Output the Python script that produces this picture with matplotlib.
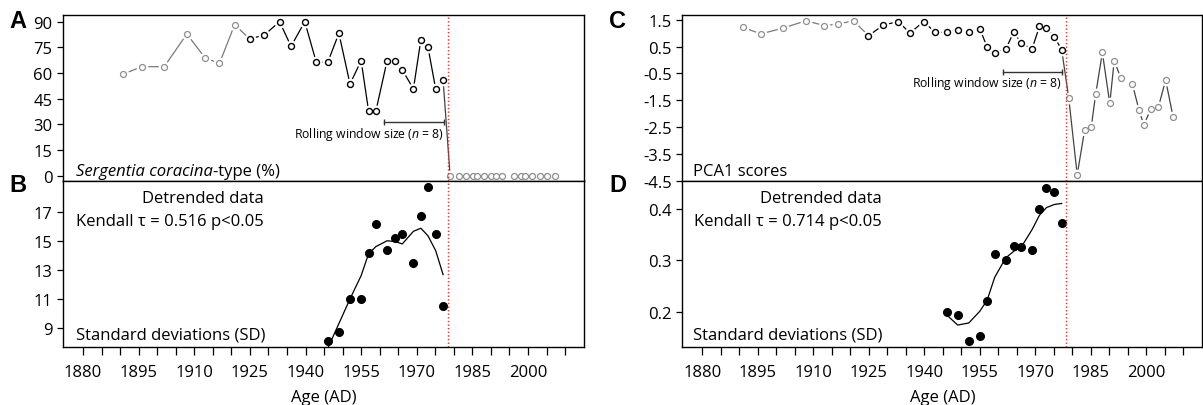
import matplotlib
matplotlib.use('Agg')
import matplotlib.pyplot as plt
import numpy as np

plt.rcParams['font.family'] = ['Open Sans', 'DejaVu Sans']
plt.rcParams['mathtext.fontset'] = 'custom'
plt.rcParams['mathtext.rm'] = 'Open Sans'
plt.rcParams['mathtext.it'] = 'Open Sans:italic'

# sample ages (AD), shared by panels A and C
years = [1890.9, 1895.8, 1901.9, 1908.0, 1913.0, 1916.8, 1920.9, 1924.9, 1928.9, 1933.0,
         1936.1, 1939.8, 1942.9, 1946.0, 1949.0, 1952.0, 1955.0, 1957.0, 1959.0, 1962.0,
         1964.2, 1966.1, 1969.1, 1971.1, 1973.0, 1975.1, 1977.1,
         1979.0, 1981.3, 1983.3, 1985.1, 1986.3, 1988.1, 1990.1, 1991.3, 1993.1,
         1996.2, 1998.0, 1999.3, 2001.2, 2003.2, 2005.2, 2007.2]
sergentia = [59.4, 63.7, 63.7, 82.8, 68.6, 65.7, 88.3, 79.9, 82.2, 90.0,
             75.6, 90.0, 66.3, 66.3, 83.2, 53.6, 67.2, 38.0, 38.0, 67.2,
             67.2, 61.8, 50.7, 79.3, 75.4, 50.7, 55.9,
             0, 0, 0, 0, 0, 0, 0, 0, 0,
             0, 0, 0, 0, 0, 0, 0]
pca1 = [1.22, 0.97, 1.19, 1.46, 1.28, 1.34, 1.46, 0.90, 1.30, 1.43,
        1.00, 1.43, 1.03, 1.03, 1.12, 1.03, 1.15, 0.47, 0.26, 0.41,
        1.05, 0.63, 0.41, 1.25, 1.19, 0.87, 0.38,
        -1.40, -4.28, -2.62, -2.49, -1.27, 0.28, -1.62, -0.03, -0.68,
        -0.90, -1.86, -2.42, -1.83, -1.77, -0.75, -2.12]
first_black = 7      # first sample drawn in black
first_after = 27     # first sample after the shift
gap_after = 35       # no line between this sample and the next

# rolling standard deviations (window n = 8)
sd_years = [1946.0, 1949.0, 1952.0, 1955.0, 1957.0, 1959.0, 1962.0,
            1964.2, 1966.1, 1969.1, 1971.1, 1973.0, 1975.1, 1977.1]
sd_sergentia = [8.09, 8.70, 10.99, 10.99, 14.14, 16.15, 14.36,
                15.19, 15.46, 13.49, 16.70, 18.68, 15.46, 10.49]
sd_sergentia_fit = [7.6, 9.3, 11.0, 12.6, 14.1, 14.6, 15.0,
                    14.94, 14.78, 15.65, 15.86, 15.35, 14.32, 12.67]
sd_pca = [0.199, 0.194, 0.142, 0.152, 0.220, 0.312, 0.301,
          0.329, 0.327, 0.320, 0.400, 0.442, 0.433, 0.372]
sd_pca_fit = [0.194, 0.174, 0.178, 0.201, 0.223, 0.267, 0.305,
              0.318, 0.325, 0.360, 0.388, 0.403, 0.409, 0.411]

shift_year = 1978.4
window = (1961.2, 1977.3)

tick_years = list(range(1880, 2011, 5))
label_years = [1880, 1895, 1910, 1925, 1940, 1955, 1970, 1985, 2000]

GREY = '#8f8f8f'
GREY_LINE = '#7a7a7a'
RED = '#e8332a'
FS = 12

W, H = 1203, 406
fig = plt.figure(figsize=(W / 100, H / 100), dpi=100)


def box(x0, y0, x1, y1):
    return [x0 / W, 1 - y1 / H, (x1 - x0) / W, (y1 - y0) / H]


axA = fig.add_axes(box(63, 16, 584, 182))
axB = fig.add_axes(box(63, 182, 584, 348))
axC = fig.add_axes(box(682.3, 16, 1202.3, 182))
axD = fig.add_axes(box(682.3, 182, 1202.3, 348))

for ax in (axA, axB, axC, axD):
    ax.set_xlim(1874.6, 2015.1)
    for s in ax.spines.values():
        s.set_linewidth(1.0)
        s.set_zorder(10)
    ax.tick_params(axis='y', direction='out', length=4.5, width=0.9, pad=3,
                   labelsize=FS)
    ax.axvline(shift_year, color=RED, lw=1.0, ls=(0, (1, 1.6)), zorder=6)

for ax in (axA, axC):
    ax.tick_params(axis='x', bottom=False, labelbottom=False)

for ax in (axB, axD):
    ax.set_xticks(tick_years)
    ax.set_xticklabels([str(t) if t in label_years else '' for t in tick_years])
    ax.tick_params(axis='x', direction='out', length=6, width=0.9, pad=6,
                   labelsize=FS)
    ax.set_xlabel('Age (AD)', fontsize=FS, labelpad=7)


def open_series(ax, vals):
    x = np.array(years)
    y = np.array(vals)
    parts = [(0, first_black + 1, GREY_LINE), (first_black, first_after, 'black'),
             (first_after - 1, gap_after + 1, '#444444'), (gap_after + 1, len(x), '#444444')]
    for a, b, c in parts:
        ax.plot(x[a:b], y[a:b], color=c, lw=0.9, zorder=2)
    # white halo leaves a gap between line and marker
    ax.plot(x, y, ls='none', marker='o', ms=8.5, mfc='white', mec='none', zorder=3)
    idx_grey = list(range(first_black)) + list(range(first_after, len(x)))
    ax.plot(x[idx_grey], y[idx_grey], ls='none', marker='o', ms=4.3, mfc='white',
            mec=GREY, mew=0.9, zorder=4)
    ax.plot(x[first_black:first_after], y[first_black:first_after], ls='none',
            marker='o', ms=4.3, mfc='white', mec='black', mew=1.0, zorder=4)


def window_bar(ax, y, ty):
    ax.plot(window, [y, y], color='#333333', lw=1.0, marker='|', ms=5, mew=1.0, zorder=5)
    ax.text(window[1], ty, r'Rolling window size ($n$ = 8)', ha='right', va='center',
            fontsize=8.8, zorder=5)


# A
open_series(axA, sergentia)
axA.set_ylim(-3.1, 93.9)
axA.set_yticks([0, 15, 30, 45, 60, 75, 90])
window_bar(axA, 31.2, 24.8)
t = axA.text(0.025, 0.062, 'Sergentia coracina', style='italic', fontsize=FS,
             transform=axA.transAxes, va='center', ha='left')
axA.annotate('-type (%)', xy=(1, 0), xycoords=t, va='bottom', ha='left', fontsize=FS)

# C
open_series(axC, pca1)
axC.set_ylim(-4.51, 1.675)
axC.set_yticks([1.5, 0.5, -0.5, -1.5, -2.5, -3.5, -4.5])
axC.set_yticklabels(['1.5', '0.5', '-0.5', '-1.5', '-2.5', '-3.5', '-4.5'])
window_bar(axC, -0.44, -0.84)
axC.text(0.02, 0.058, 'PCA1 scores', fontsize=FS, transform=axC.transAxes,
         va='center', ha='left')

# B
axB.plot(sd_years, sd_sergentia_fit, color='black', lw=0.9, zorder=3)
axB.plot(sd_years, sd_sergentia, ls='none', marker='o', ms=5.5, color='black', zorder=4)
axB.set_ylim(7.69, 19.11)
axB.set_yticks([9, 11, 13, 15, 17])
axB.text(0.386, 0.896, 'Detrended data', ha='right', va='center', fontsize=FS,
         transform=axB.transAxes)
axB.text(0.386, 0.757, 'Kendall τ = 0.516 p<0.05', ha='right', va='center',
         fontsize=FS, transform=axB.transAxes)
axB.text(0.025, 0.074, 'Standard deviations (SD)', ha='left', va='center',
         fontsize=FS, transform=axB.transAxes)

# D
axD.plot(sd_years, sd_pca_fit, color='black', lw=0.9, zorder=3)
axD.plot(sd_years, sd_pca, ls='none', marker='o', ms=5.5, color='black', zorder=4)
axD.set_ylim(0.1312, 0.4548)
axD.set_yticks([0.2, 0.3, 0.4])
axD.text(0.383, 0.896, 'Detrended data', ha='right', va='center', fontsize=FS,
         transform=axD.transAxes)
axD.text(0.383, 0.757, 'Kendall τ = 0.714 p<0.05', ha='right', va='center',
         fontsize=FS, transform=axD.transAxes)
axD.text(0.02, 0.074, 'Standard deviations (SD)', ha='left', va='center',
         fontsize=FS, transform=axD.transAxes)

for lab, x, y in [('A', 18, 21), ('B', 18, 186), ('C', 618, 21), ('D', 618, 186)]:
    fig.text(x / W, 1 - y / H, lab, fontsize=17, fontweight='bold',
             family=['Liberation Sans', 'DejaVu Sans'], ha='center', va='center')

fig.savefig('out.png', dpi=100)
